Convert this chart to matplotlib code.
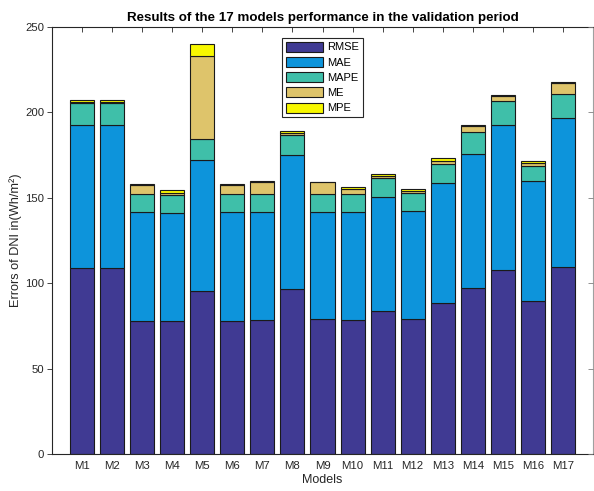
import numpy as np
import matplotlib
matplotlib.use('Agg')
import matplotlib.pyplot as plt

plt.rcParams['font.family'] = ['Liberation Sans', 'DejaVu Sans']

models = ['M%d' % i for i in range(1, 18)]
# segment heights (stack order bottom to top)
rmse = [108.7, 108.7, 78.1, 78.1, 95.2, 78.1, 78.5, 96.4, 78.7, 78.3, 83.4, 78.7, 88.2, 97.4, 107.7, 89.8, 109.7]
mae  = [83.9, 83.9, 63.7, 63.1, 76.8, 63.5, 63.3, 78.7, 63.1, 63.1, 67.2, 63.7, 70.3, 78.1, 84.7, 70.1, 87.0]
mape = [12.7, 12.7, 10.5, 10.5, 12.3, 10.5, 10.5, 11.7, 10.5, 10.8, 10.9, 10.4, 11.3, 12.9, 14.2, 8.8, 14.2]
me   = [0.9, 0.9, 5.3, 1.2, 48.8, 5.5, 7.0, 1.2, 6.6, 3.1, 1.3, 1.0, 1.8, 3.4, 3.0, 1.3, 6.3]
mpe  = [0.8, 0.8, 0.6, 1.7, 6.7, 0.6, 0.6, 0.9, 0.5, 1.2, 1.2, 1.5, 1.5, 0.6, 0.3, 1.7, 0.3]

names = ['RMSE', 'MAE', 'MAPE', 'ME', 'MPE']
colors = ['#403a93', '#0d94db', '#3fbfa9', '#dec46b', '#f8f800']

fig = plt.figure(figsize=(5.94, 4.91), dpi=100)
ax = fig.add_axes([52/594, 37/491, 541/594, 427.3/491])

x = np.arange(1, len(models) + 1)
bottom = np.zeros(len(models))
for name, vals, c in zip(names, [rmse, mae, mape, me, mpe], colors):
    ax.bar(x, vals, 0.8, bottom=bottom, color=c, edgecolor='#1a1a1a', linewidth=0.8, label=name, zorder=2)
    bottom += np.array(vals)

ax.set_xlim(0, 18)
ax.set_ylim(0, 250)
ax.set_xticks(x)
ax.set_xticklabels(models)
ax.set_yticks([0, 50, 100, 150, 200, 250])

gray = '#262626'
for s in ['left', 'bottom', 'top']:
    ax.spines[s].set_color(gray)
    ax.spines[s].set_linewidth(0.8)
ax.spines['right'].set_color('#a0a0a0')
ax.spines['right'].set_linewidth(0.8)
ax.tick_params(axis='x', direction='in', top=True, length=3.5, width=0.6, colors=gray, labelsize=8.2, pad=5)
ax.tick_params(axis='y', direction='out', length=3.5, width=0.6, colors=gray, labelsize=8.2, pad=2)

ax2 = ax.twinx()
ax2.set_ylim(0, 250)
ax2.set_yticks([0, 50, 100, 150, 200, 250])
ax2.tick_params(axis='y', direction='in', length=3.5, width=0.6, colors='#808080', labelright=False)
for s in ax2.spines.values():
    s.set_visible(False)

ax.set_title('Results of the 17 models performance in the validation period', fontsize=9.6, fontweight='bold', pad=4)
ax.set_xlabel('Models', fontsize=9, color=gray, labelpad=2)
ax.set_ylabel('Errors of DNI in(Wh/m²)', fontsize=9.2, color=gray, labelpad=2)

leg = ax.legend(loc='upper left', bbox_to_anchor=(0.426, 0.974), fontsize=8, frameon=True, fancybox=False,
                framealpha=1, edgecolor=gray, handlelength=3.3, handleheight=1.0, handletextpad=0.35,
                labelspacing=0.4, borderpad=0.35, borderaxespad=0)
leg.get_frame().set_linewidth(0.8)

fig.savefig('out.png', dpi=100)
